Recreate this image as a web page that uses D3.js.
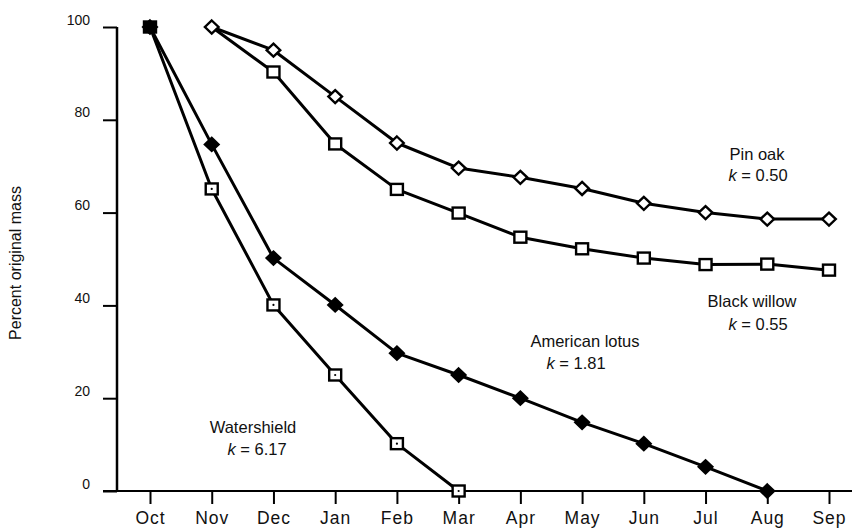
<!DOCTYPE html>
<html>
<head>
<meta charset="utf-8">
<script src="https://cdn.jsdelivr.net/npm/d3@7/dist/d3.min.js"></script>
<style>
  html, body { margin: 0; padding: 0; background: #fff; }
  svg { display: block; font-family: "Liberation Sans", Arial, sans-serif; }
</style>
</head>
<body>
<svg id="chart" width="852" height="529"></svg>
<script>
// ---- data ----
const months = ["Oct","Nov","Dec","Jan","Feb","Mar","Apr","May","Jun","Jul","Aug","Sep"];
const yTicks = [0, 20, 40, 60, 80, 100];

const pinOakMonths = ["Nov","Dec","Jan","Feb","Mar","Apr","May","Jun","Jul","Aug","Sep"];
const pinOakValues = [100, 95, 85, 75, 69.6, 67.6, 65.2, 62, 60, 58.6, 58.6];

const blackWillowMonths = ["Nov","Dec","Jan","Feb","Mar","Apr","May","Jun","Jul","Aug","Sep"];
const blackWillowValues = [100, 90.3, 74.8, 65, 59.9, 54.7, 52.2, 50.2, 48.8, 48.9, 47.6];

const lotusMonths = ["Oct","Nov","Dec","Jan","Feb","Mar","Apr","May","Jun","Jul","Aug"];
const lotusValues = [100, 74.7, 50.2, 40.1, 29.7, 25, 20, 14.8, 10.2, 5.2, 0];

const watershieldMonths = ["Oct","Nov","Dec","Jan","Feb","Mar"];
const watershieldValues = [100, 65.1, 40.1, 25, 10.2, 0];

const labelNames = ["Pin oak", "Black willow", "American lotus", "Watershield"];
const labelK = ["0.50", "0.55", "1.81", "6.17"];
const yTitle = "Percent original mass";

// ---- layout ----
const svg = d3.select("#chart");
const x = d3.scalePoint().domain(months).range([150, 829]).padding(0);
const y = d3.scaleLinear().domain([0, 100]).range([491, 27]);
const axisX = 117;

// y axis
const gy = svg.append("g").attr("transform", `translate(${axisX},0)`)
  .call(d3.axisLeft(y).tickValues(yTicks).tickSize(14).tickPadding(13).tickFormat(d3.format("d")));
gy.attr("font-size", null).attr("font-family", null);
gy.select(".domain").remove();
gy.selectAll(".tick line").attr("stroke", "#000").attr("stroke-width", 2);
gy.selectAll(".tick text").attr("dy", null).attr("y", -3)
  .attr("font-size", 14).attr("fill", "#111");
svg.append("line").attr("x1", axisX).attr("x2", axisX).attr("y1", y(100)).attr("y2", y(0))
  .attr("stroke", "#000").attr("stroke-width", 2.5);

// x axis
const gx = svg.append("g").attr("transform", `translate(0,${y(0)})`)
  .call(d3.axisBottom(x).tickSize(13));
gx.attr("font-size", null).attr("font-family", null);
gx.select(".domain").remove();
gx.selectAll(".tick line").attr("stroke", "#000").attr("stroke-width", 2);
gx.selectAll(".tick text").attr("dy", null).attr("y", 33)
  .attr("font-size", 17.5).attr("letter-spacing", 1).attr("fill", "#111");
svg.append("line").attr("x1", 103).attr("x2", 852).attr("y1", y(0)).attr("y2", y(0))
  .attr("stroke", "#000").attr("stroke-width", 2);

// y title
svg.append("text").attr("transform", "translate(21,263) rotate(-90)")
  .attr("text-anchor", "middle").attr("font-size", 16).attr("fill", "#111")
  .text(yTitle);

// ---- series ----
const series = [
  {m: watershieldMonths, v: watershieldValues, shape: "squareDot"},
  {m: lotusMonths, v: lotusValues, shape: "diamondFill"},
  {m: blackWillowMonths, v: blackWillowValues, shape: "square", skipFirst: true},
  {m: pinOakMonths, v: pinOakValues, shape: "diamond"}
];
const line = d3.line().x(d => x(d[0])).y(d => y(d[1]));
series.forEach(s => {
  s.pts = s.m.map((mm, i) => [mm, s.v[i]]);
  svg.append("path").datum(s.pts).attr("d", line)
    .attr("fill", "none").attr("stroke", "#000").attr("stroke-width", 3)
    .attr("stroke-linejoin", "round");
});
const diamondPath = "M0,-6.5L6.8,0L0,6.5L-6.8,0Z";
series.forEach(s => {
  const pts = s.skipFirst ? s.pts.slice(1) : s.pts;
  const g = svg.append("g");
  pts.forEach((p, i) => {
    const gg = g.append("g").attr("transform", `translate(${x(p[0])},${y(p[1])})`);
    if (s.shape === "diamond" || s.shape === "diamondFill") {
      gg.append("path").attr("d", diamondPath)
        .attr("fill", s.shape === "diamondFill" ? "#000" : "#fff")
        .attr("stroke", "#000").attr("stroke-width", 2.4);
    } else {
      // the shared Oct start point is drawn as a solid block in the original
      const shared = s.shape === "squareDot" && i === 0;
      gg.append("rect").attr("x", -6).attr("y", -5.5).attr("width", 12).attr("height", 11)
        .attr("fill", shared ? "#000" : "#fff").attr("stroke", "#000").attr("stroke-width", 2.4);
      if (s.shape === "squareDot" && !shared) {
        gg.append("circle").attr("r", 1.1).attr("fill", "#000");
      }
    }
  });
});

// ---- annotations ----
const labelPos = [
  {nx: 757, ny: 160, kx: 758, ky: 181},
  {nx: 752, ny: 307, kx: 758, ky: 330},
  {nx: 585, ny: 347, kx: 576, ky: 369},
  {nx: 253, ny: 433, kx: 257, ky: 455}
];
labelNames.forEach((name, i) => {
  const p = labelPos[i];
  svg.append("text").attr("x", p.nx).attr("y", p.ny).attr("text-anchor", "middle")
    .attr("font-size", 16.5).attr("fill", "#111").text(name);
  const t = svg.append("text").attr("x", p.kx).attr("y", p.ky).attr("text-anchor", "middle")
    .attr("font-size", 16.5).attr("fill", "#111");
  t.append("tspan").attr("font-style", "italic").text("k");
  t.append("tspan").text(" = " + labelK[i]);
});
</script>
</body>
</html>
